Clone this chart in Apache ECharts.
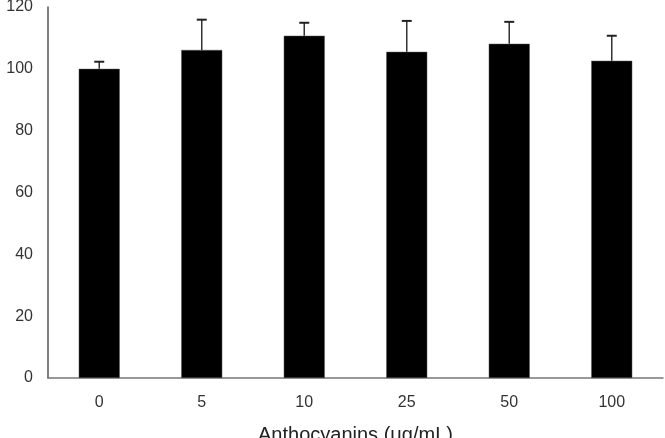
<!DOCTYPE html>
<html>
<head>
<meta charset="utf-8">
<script src="https://cdn.jsdelivr.net/npm/echarts@6/dist/echarts.min.js"></script>
<style>
  html, body { margin: 0; padding: 0; background: #fff; }
  #chart { width: 665px; height: 438px; }
</style>
</head>
<body>
<div id="chart"></div>
<script>
// data
var categories = ['0', '5', '10', '25', '50', '100'];
var values = [100, 106.1, 110.7, 105.5, 108.1, 102.6];
var errors = [2.3, 9.8, 4.2, 10.0, 7.1, 8.1];
var yTicks = [0, 20, 40, 60, 80, 100, 120];

var myChart = echarts.init(document.getElementById('chart'));

var errData = values.map(function (v, i) { return [i, v, v + errors[i]]; });

var option = {
  animation: false,
  grid: { left: 48, right: 2, top: 7, bottom: 60, containLabel: false, outerBoundsMode: 'none' },
  xAxis: {
    type: 'category',
    data: categories,
    name: 'Anthocyanins (μg/mL)',
    nameLocation: 'middle',
    nameGap: 47,
    nameTextStyle: { fontFamily: 'Liberation Sans', fontSize: 20, color: '#222' },
    axisLine: { lineStyle: { color: '#777', width: 1.5 } },
    axisTick: { show: false },
    axisLabel: { fontFamily: 'Liberation Sans', fontSize: 16, color: '#333', margin: 17 }
  },
  yAxis: {
    type: 'value',
    min: yTicks[0],
    max: yTicks[yTicks.length - 1],
    interval: 20,
    axisLine: { show: true, lineStyle: { color: '#555', width: 1.5 } },
    axisTick: { show: false },
    splitLine: { show: false },
    axisLabel: { fontFamily: 'Liberation Sans', fontSize: 16, color: '#333', margin: 15 }
  },
  series: [
    {
      type: 'bar',
      data: values,
      barWidth: 41,
      itemStyle: { color: '#000', borderColor: '#555', borderWidth: 0.5 }
    },
    {
      type: 'custom',
      data: errData,
      z: 10,
      renderItem: function (params, api) {
        var x = api.value(0);
        var lo = api.coord([x, api.value(1)]);
        var hi = api.coord([x, api.value(2)]);
        var half = 5;
        var st = { stroke: '#333', lineWidth: 1.5 };
        return {
          type: 'group',
          children: [
            { type: 'line', shape: { x1: lo[0], y1: lo[1], x2: hi[0], y2: hi[1] }, style: st },
            { type: 'line', shape: { x1: hi[0] - half, y1: hi[1], x2: hi[0] + half, y2: hi[1] }, style: { stroke: '#222', lineWidth: 2 } }
          ]
        };
      }
    }
  ]
};
myChart.setOption(option);
</script>
</body>
</html>
